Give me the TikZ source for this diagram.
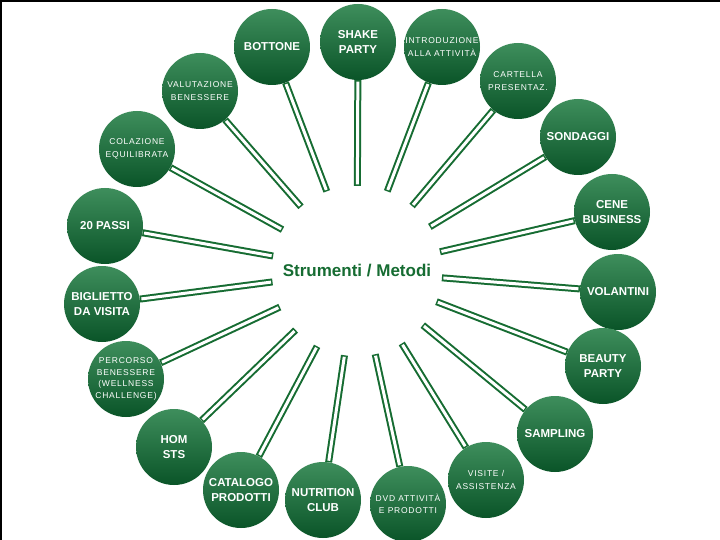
\documentclass[tikz,border=0pt]{standalone}
\usepackage{fontspec}
\setmainfont{Liberation Sans}
\newfontfamily\spacedfont[LetterSpace=9]{Liberation Sans}
\definecolor{ballgreen}{RGB}{20,104,54}
\definecolor{balllight}{RGB}{62,142,92}
\definecolor{balldark}{RGB}{10,84,40}
\definecolor{linegreen}{RGB}{22,108,50}
\tikzset{
  ball/.style={circle,minimum size=76pt,inner sep=0pt,align=center,text=white,
    top color=balllight,middle color=ballgreen,bottom color=balldark},
  ballbold/.style={ball,font=\fontsize{11.5}{14.5}\selectfont\bfseries},
  ballthin/.style={ball,font=\spacedfont\fontsize{8.5}{12.5}\selectfont},
  conout/.style={draw=linegreen,line width=7pt},
  conin/.style={draw=white,line width=3pt,shorten <=1.5pt,shorten >=1.5pt}
}
\begin{document}
\begin{tikzpicture}[x=1pt,y=-1pt]
\useasboundingbox (0,0) rectangle (720,540);
\fill[white] (0,0) rectangle (720,540);
\draw[black,line width=2.5pt] (0,1) -- (720,1);
\draw[black,line width=2.5pt] (1,0) -- (1,540);

\node (hub) [circle,minimum size=170pt,inner sep=0pt,text=linegreen,
  font=\fontsize{17}{20}\selectfont\bfseries] at (357,271) {Strumenti / Metodi};

\node (bottone) [ballbold] at (272,47) {BOTTONE};
\node (shake) [ballbold] at (358,42) {SHAKE\\PARTY};
\node (intro) [ballthin] at (442,47) {INTRODUZIONE\\ALLA ATTIVITÀ};
\node (cartella) [ballthin] at (518,81) {CARTELLA\\PRESENTAZ.};
\node (sondaggi) [ballbold] at (578,137) {SONDAGGI};
\node (cene) [ballbold] at (612,212) {CENE\\BUSINESS};
\node (volantini) [ballbold] at (618,292) {VOLANTINI};
\node (beauty) [ballbold] at (603,366) {BEAUTY\\PARTY};
\node (sampling) [ballbold] at (555,434) {SAMPLING};
\node (visite) [ballthin] at (486,480) {VISITE /\\ASSISTENZA};
\node (dvd) [ballthin] at (408,504) {DVD ATTIVITÀ\\E PRODOTTI};
\node (nutrition) [ballbold] at (323,500) {NUTRITION\\CLUB};
\node (catalogo) [ballbold] at (241,490) {CATALOGO\\PRODOTTI};
\node (hom) [ballbold] at (174,447) {HOM\\STS};
\node (percorso) [ballthin,font=\spacedfont\fontsize{8.5}{11.5}\selectfont] at (126,379) {PERCORSO\\BENESSERE\\(WELLNESS\\CHALLENGE)};
\node (biglietto) [ballbold] at (102,304) {BIGLIETTO\\DA VISITA};
\node (passi) [ballbold] at (105,226) {20 PASSI};
\node (colazione) [ballthin] at (137,149) {COLAZIONE\\EQUILIBRATA};
\node (valutazione) [ballthin] at (200,91) {VALUTAZIONE\\BENESSERE};

\foreach \b in {bottone,shake,intro,cartella,sondaggi,cene,volantini,beauty,sampling,
  visite,dvd,nutrition,catalogo,hom,percorso,biglietto,passi,colazione,valutazione}{
  \draw [conout] (hub) -- (\b);
  \draw [conin] (hub) -- (\b);
}
\end{tikzpicture}
\end{document}
